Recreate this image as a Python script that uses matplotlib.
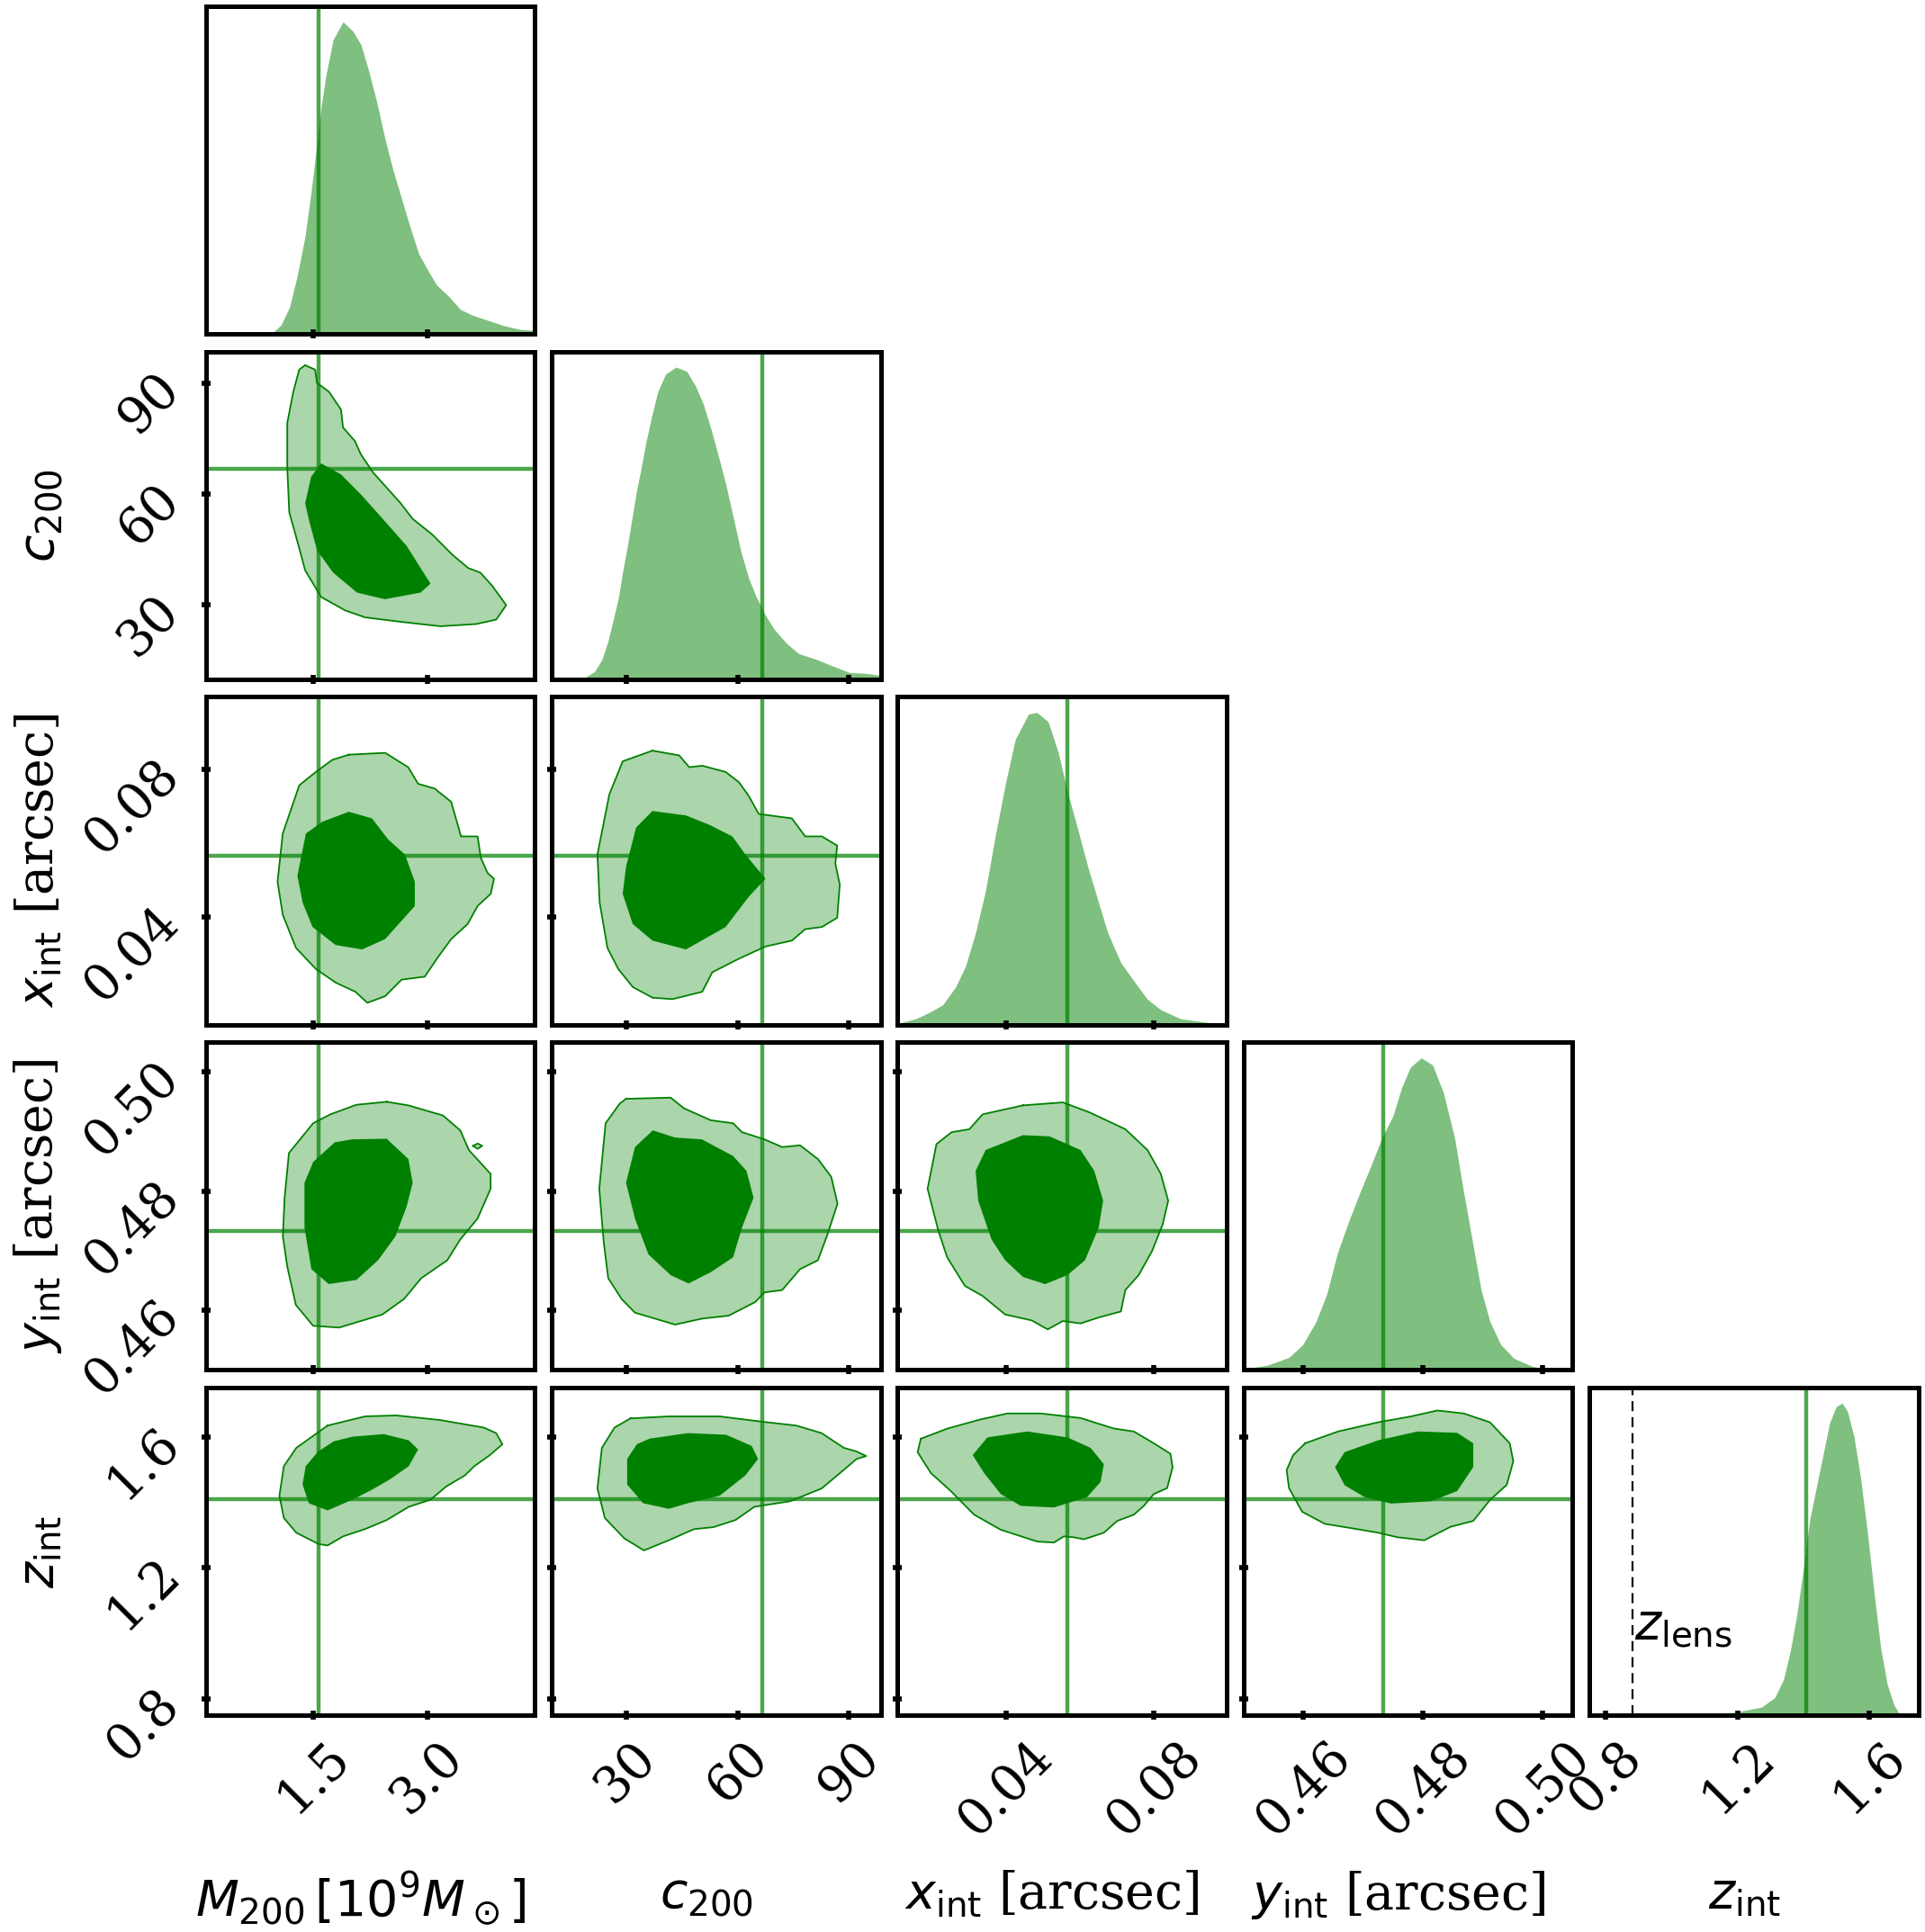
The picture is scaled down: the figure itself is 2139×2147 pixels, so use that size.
import numpy as np
import matplotlib.pyplot as plt

plt.rcParams['font.family'] = 'serif'
plt.rcParams['font.serif'] = ['DejaVu Serif']
plt.rcParams['mathtext.fontset'] = 'dejavusans'

# ---------------- parameters ----------------
labels = [r'$M_{200}\,[10^9M_\odot]$', r'$c_{200}$', r'$x_{\rm int}$ [arcsec]',
          r'$y_{\rm int}$ [arcsec]', r'$z_{\rm int}$']
ranges = [(0.09, 4.41), (10.0, 98.5), (0.0107, 0.0997), (0.450, 0.505), (0.75, 1.75)]
ticks = [[1.5, 3.0], [30, 60, 90], [0.04, 0.08], [0.46, 0.48, 0.50], [0.8, 1.2, 1.6]]
tick_labels = [['1.5', '3.0'], ['30', '60', '90'], ['0.04', '0.08'],
               ['0.46', '0.48', '0.50'], ['0.8', '1.2', '1.6']]
truths = [1.57, 66.7, 0.0565, 0.4733, 1.41]
z_lens = 0.88

# ---------------- 1D marginals (peak normalised) ----------------
M_x = [0.95, 1.08, 1.19, 1.29, 1.395, 1.474, 1.552, 1.605, 1.667, 1.761, 1.892, 2.02, 2.127,
       2.23, 2.336, 2.44, 2.545, 2.65, 2.754, 2.885, 3.015, 3.12, 3.277, 3.434, 3.59, 3.8,
       4.008, 4.22, 4.41]
M_pdf = [0.0, 0.029, 0.086, 0.185, 0.314, 0.457, 0.613, 0.728, 0.827, 0.942, 1.0, 0.970, 0.927,
         0.842, 0.742, 0.628, 0.528, 0.442, 0.357, 0.257, 0.200, 0.157, 0.121, 0.078, 0.060, 0.043,
         0.026, 0.014, 0.011]

c_x = [18.2, 21.5, 23.5, 25.1, 26.7, 28.0, 29.2, 30.4, 31.6, 32.8, 34.1, 35.3, 36.9, 38.5, 40.6,
       43.4, 46.3, 48.7, 50.8, 52.8, 54.8, 56.9, 58.9, 60.9, 63.0, 65.0, 67.4, 69.9, 73.1, 76.4,
       81.3, 85.4, 90.2, 94.3, 98.5]
c_pdf = [0.0, 0.024, 0.063, 0.12, 0.197, 0.265, 0.352, 0.429, 0.515, 0.602, 0.679, 0.756, 0.843,
         0.92, 0.977, 1.0, 0.987, 0.939, 0.881, 0.804, 0.717, 0.621, 0.515, 0.409, 0.323, 0.265,
         0.207, 0.159, 0.116, 0.082, 0.063, 0.043, 0.021, 0.019, 0.012]

x_x = [0.0107, 0.0157, 0.0193, 0.0229, 0.0264, 0.0291, 0.0318, 0.0345, 0.0371, 0.0398, 0.0425,
       0.0461, 0.0484, 0.0514, 0.0541, 0.0568, 0.0595, 0.0621, 0.0648, 0.0675, 0.0711, 0.0746,
       0.0782, 0.0818, 0.0871, 0.0943, 0.0997]
x_pdf = [0.003, 0.019, 0.039, 0.063, 0.121, 0.188, 0.295, 0.43, 0.604, 0.768, 0.913,
         0.995, 1.0, 0.971, 0.874, 0.739, 0.623, 0.507, 0.401, 0.295, 0.198, 0.14,
         0.082, 0.048, 0.019, 0.007, 0.002]

y_x = [0.4503, 0.454, 0.4576, 0.4599, 0.4621, 0.4639, 0.4657, 0.4676, 0.4694, 0.4713, 0.4731,
       0.475, 0.4764, 0.4779, 0.4797, 0.4816, 0.4834, 0.4853, 0.4867, 0.4882, 0.4897, 0.4912,
       0.493, 0.4952, 0.4982, 0.5011]
y_pdf = [0.004, 0.015, 0.04, 0.081, 0.154, 0.242, 0.375, 0.477, 0.566, 0.654, 0.742,
         0.815, 0.903, 0.97, 1.0, 0.977, 0.889, 0.742, 0.58, 0.419, 0.257, 0.154,
         0.081, 0.037, 0.012, 0.0]

z_x = [1.126, 1.206, 1.273, 1.313, 1.34, 1.36, 1.38, 1.4, 1.42, 1.44, 1.46, 1.48, 1.5, 1.518,
       1.534, 1.554, 1.574, 1.595, 1.615, 1.635, 1.655, 1.675, 1.695]
z_pdf = [0.0, 0.012, 0.026, 0.056, 0.115, 0.203, 0.32, 0.467, 0.629, 0.732, 0.834, 0.937, 0.989,
         1.0, 0.974, 0.893, 0.761, 0.585, 0.394, 0.217, 0.1, 0.034, 0.0]

marginals = [(M_x, M_pdf), (c_x, c_pdf), (x_x, x_pdf), (y_x, y_pdf), (z_x, z_pdf)]

# ---------------- 2D credible contours (95% outer, 68% inner) ----------------
Mc_95 = [(1.395, 94.8), (1.526, 93.6), (1.552, 90.0), (1.709, 87.6), (1.866, 82.8), (1.892, 78.0),
         (2.049, 74.3), (2.127, 70.7), (2.284, 65.9), (2.493, 61.1), (2.65, 57.5), (2.807, 53.3),
         (3.068, 49.0), (3.329, 43.6), (3.538, 40.0), (3.695, 38.8), (3.852, 35.2), (4.035, 30.0),
         (3.904, 26.1), (3.643, 24.9), (3.172, 24.3), (2.65, 25.5), (2.18, 26.7), (1.918, 28.6),
         (1.605, 32.2), (1.395, 39.4), (1.317, 45.4), (1.186, 55.1), (1.16, 67.1), (1.16, 79.2),
         (1.239, 87.6), (1.317, 93.6)]
Mc_68 = [(1.605, 68.3), (1.866, 65.3), (2.127, 59.9), (2.388, 53.9), (2.728, 46.0), (2.911, 40.0),
         (3.042, 35.8), (2.911, 33.4), (2.441, 31.6), (2.075, 33.4), (1.761, 38.8), (1.552, 44.8),
         (1.448, 52.7), (1.395, 57.5), (1.474, 64.7)]

Mx_95 = [(1.968, 0.0840), (2.445, 0.0845), (2.748, 0.0806), (2.878, 0.0761), (3.095, 0.0748),
         (3.312, 0.0712), (3.442, 0.0618), (3.659, 0.0618), (3.702, 0.0560), (3.789, 0.0519),
         (3.875, 0.0503), (3.832, 0.0462), (3.659, 0.0429), (3.529, 0.0380), (3.312, 0.0339),
         (3.139, 0.0290), (2.965, 0.0237), (2.662, 0.0229), (2.445, 0.0184), (2.211, 0.0166),
         (2.055, 0.0196), (1.795, 0.0221), (1.535, 0.0258), (1.275, 0.0315), (1.101, 0.0405),
         (1.032, 0.0495), (1.101, 0.0626), (1.318, 0.0757), (1.535, 0.0793), (1.751, 0.0826)]
Mx_68 = [(1.968, 0.0685), (2.272, 0.0667), (2.488, 0.0609), (2.705, 0.0569), (2.835, 0.0495),
         (2.835, 0.0429), (2.662, 0.0389), (2.445, 0.0339), (2.142, 0.0311), (1.795, 0.0323),
         (1.492, 0.0372), (1.362, 0.0438), (1.293, 0.0511), (1.405, 0.0626), (1.622, 0.0658)]

cx_95 = [(37.1, 0.0851), (44.3, 0.0838), (47.0, 0.0806), (50.5, 0.0810), (56.8, 0.0793),
         (60.4, 0.0765), (63.0, 0.0728), (65.7, 0.0679), (74.6, 0.0667), (78.2, 0.0618),
         (82.7, 0.0618), (86.8, 0.0593), (86.3, 0.0544), (87.5, 0.0487), (86.8, 0.0397),
         (82.7, 0.0372), (78.2, 0.0366), (74.6, 0.0335), (67.5, 0.0319), (60.4, 0.0286),
         (53.2, 0.0249), (50.5, 0.0196), (42.5, 0.0176), (37.1, 0.0180), (31.8, 0.0209),
         (27.9, 0.0258), (25.0, 0.0315), (22.9, 0.0438), (22.3, 0.0569), (25.5, 0.0732),
         (29.1, 0.0822)]
cx_68 = [(37.1, 0.0687), (46.1, 0.0675), (52.3, 0.0650), (58.6, 0.0618), (62.1, 0.0569),
         (67.5, 0.0503), (63.0, 0.0454), (56.8, 0.0372), (46.1, 0.0311), (37.1, 0.0335),
         (31.8, 0.0380), (29.1, 0.0462), (30.0, 0.0536), (32.7, 0.0642)]

My_95 = [(2.466, 0.4950), (2.75, 0.4944), (3.205, 0.4927), (3.432, 0.4902), (3.545, 0.4869),
         (3.83, 0.4829), (3.83, 0.4804), (3.659, 0.4754), (3.432, 0.4719), (3.261, 0.4684),
         (2.92, 0.4654), (2.693, 0.4619), (2.409, 0.4593), (1.841, 0.4571), (1.5, 0.4574),
         (1.273, 0.4609), (1.159, 0.4674), (1.102, 0.4724), (1.125, 0.4789), (1.182, 0.4864),
         (1.5, 0.4914), (1.727, 0.4929), (2.068, 0.4945)]
My_68 = [(2.011, 0.4887), (2.466, 0.4888), (2.75, 0.4854), (2.807, 0.4814), (2.727, 0.4774),
         (2.58, 0.4724), (2.352, 0.4684), (2.068, 0.4651), (1.705, 0.4644), (1.477, 0.4669),
         (1.386, 0.4739), (1.386, 0.4814), (1.5, 0.4849), (1.784, 0.4882)]
My_island = [(3.60, 0.4876), (3.66, 0.4880), (3.72, 0.4876), (3.66, 0.4871)]

cy_95 = [(30.0, 0.4955), (42.0, 0.4957), (45.6, 0.4939), (52.8, 0.4919), (58.8, 0.4914),
         (61.2, 0.4899), (67.2, 0.4887), (72.0, 0.4874), (76.8, 0.4877), (81.6, 0.4854),
         (85.2, 0.4824), (86.9, 0.4779), (84.0, 0.4724), (81.6, 0.4684), (76.8, 0.4669),
         (72.0, 0.4634), (67.2, 0.4630), (64.8, 0.4614), (57.6, 0.4591), (50.4, 0.4586),
         (43.2, 0.4576), (32.4, 0.4596), (28.8, 0.4619), (25.2, 0.4654), (24.0, 0.4714),
         (22.8, 0.4804), (24.5, 0.4914), (28.3, 0.4947)]
cy_68 = [(37.2, 0.4902), (43.2, 0.4890), (50.4, 0.4887), (58.8, 0.4859), (62.4, 0.4834),
         (64.3, 0.4789), (61.2, 0.4739), (58.8, 0.4689), (52.8, 0.4664), (46.8, 0.4645),
         (42.0, 0.4659), (36.0, 0.4694), (32.4, 0.4754), (30.0, 0.4814), (32.4, 0.4874)]

xy_95 = [(0.0446, 0.4944), (0.0554, 0.4949), (0.0627, 0.4932), (0.0723, 0.4904), (0.0783, 0.4869),
         (0.0819, 0.4829), (0.0839, 0.4784), (0.0824, 0.4744), (0.0795, 0.4699), (0.0759, 0.4659),
         (0.0723, 0.4634), (0.0711, 0.4598), (0.0651, 0.4588), (0.0602, 0.4578), (0.0554, 0.4582),
         (0.0513, 0.4568), (0.0470, 0.4583), (0.0398, 0.4593), (0.0337, 0.4624), (0.0289, 0.4641),
         (0.0241, 0.4689), (0.0217, 0.4734), (0.0188, 0.4804), (0.0212, 0.4879), (0.0253, 0.4899),
         (0.0301, 0.4904), (0.0337, 0.4929)]
xy_68 = [(0.0446, 0.4894), (0.0518, 0.4892), (0.0602, 0.4869), (0.0639, 0.4834), (0.0663, 0.4784),
         (0.0651, 0.4739), (0.0614, 0.4684), (0.0566, 0.4659), (0.0506, 0.4644), (0.0446, 0.4656),
         (0.0398, 0.4684), (0.0361, 0.4719), (0.0325, 0.4784), (0.0318, 0.4834), (0.0345, 0.4869)]

Mz_95 = [(1.689, 1.634), (2.181, 1.662), (2.591, 1.665), (3.165, 1.651), (3.739, 1.628),
         (3.903, 1.611), (3.985, 1.577), (3.821, 1.544), (3.616, 1.510), (3.493, 1.482),
         (3.247, 1.448), (3.042, 1.408), (2.755, 1.386), (2.468, 1.346), (2.181, 1.318),
         (1.894, 1.296), (1.689, 1.268), (1.566, 1.273), (1.279, 1.307), (1.115, 1.352),
         (1.057, 1.420), (1.115, 1.510), (1.279, 1.566)]
Mz_68 = [(2.017, 1.600), (2.427, 1.608), (2.755, 1.589), (2.878, 1.561), (2.755, 1.510),
         (2.509, 1.470), (2.263, 1.437), (2.017, 1.408), (1.689, 1.375), (1.443, 1.397),
         (1.361, 1.454), (1.402, 1.510), (1.566, 1.555), (1.771, 1.586)]

cz_95 = [(31.2, 1.656), (41.5, 1.662), (55.2, 1.662), (67.2, 1.645), (75.8, 1.634), (82.6, 1.611),
         (88.6, 1.566), (92.0, 1.555), (94.6, 1.541), (92.0, 1.532), (88.6, 1.499), (82.6, 1.442),
         (74.1, 1.403), (64.5, 1.386), (59.5, 1.346), (53.5, 1.324), (48.3, 1.318), (41.5, 1.284),
         (34.8, 1.253), (29.5, 1.290), (24.3, 1.352), (22.3, 1.442), (23.5, 1.566), (26.9, 1.628)]
cz_68 = [(36.3, 1.594), (46.6, 1.611), (56.9, 1.606), (63.8, 1.572), (65.5, 1.532), (62.1, 1.482),
         (55.2, 1.420), (46.6, 1.397), (41.5, 1.380), (34.6, 1.397), (30.3, 1.454), (30.3, 1.532),
         (32.9, 1.577)]

xz_95 = [(0.0170, 1.594), (0.0242, 1.625), (0.0332, 1.653), (0.0404, 1.671), (0.0494, 1.671),
         (0.0602, 1.657), (0.0692, 1.625), (0.0746, 1.616), (0.0800, 1.580), (0.0845, 1.548),
         (0.0851, 1.507), (0.0836, 1.443), (0.0800, 1.425), (0.0773, 1.389), (0.0746, 1.362),
         (0.0701, 1.343), (0.0665, 1.307), (0.0611, 1.287), (0.0584, 1.293), (0.0557, 1.296),
         (0.0530, 1.277), (0.0485, 1.280), (0.0386, 1.316), (0.0314, 1.362), (0.0251, 1.434),
         (0.0197, 1.489), (0.0161, 1.553)]
xz_68 = [(0.0350, 1.598), (0.0458, 1.616), (0.0566, 1.598), (0.0629, 1.566), (0.0665, 1.516),
         (0.0656, 1.462), (0.0620, 1.416), (0.0530, 1.384), (0.0440, 1.389), (0.0386, 1.425),
         (0.0341, 1.489), (0.0310, 1.544)]

yz_95 = [(0.4603, 1.580), (0.4658, 1.616), (0.4725, 1.644), (0.4780, 1.662), (0.4824, 1.680),
         (0.4868, 1.671), (0.4912, 1.644), (0.4945, 1.580), (0.4951, 1.525), (0.4940, 1.453),
         (0.4912, 1.407), (0.4884, 1.343), (0.4846, 1.325), (0.4802, 1.284), (0.4758, 1.293),
         (0.4725, 1.307), (0.4680, 1.321), (0.4636, 1.334), (0.4598, 1.371), (0.4576, 1.443),
         (0.4572, 1.498), (0.4583, 1.544)]
yz_68 = [(0.4669, 1.553), (0.4725, 1.589), (0.4791, 1.616), (0.4857, 1.612), (0.4884, 1.580),
         (0.4884, 1.507), (0.4857, 1.434), (0.4813, 1.403), (0.4747, 1.396), (0.4702, 1.416),
         (0.4669, 1.452), (0.4653, 1.507)]

# (row, col) -> (outer, inner, islands)
contours = {
    (1, 0): (Mc_95, Mc_68, []),
    (2, 0): (Mx_95, Mx_68, []),
    (2, 1): (cx_95, cx_68, []),
    (3, 0): (My_95, My_68, [My_island]),
    (3, 1): (cy_95, cy_68, []),
    (3, 2): (xy_95, xy_68, []),
    (4, 0): (Mz_95, Mz_68, []),
    (4, 1): (cz_95, cz_68, []),
    (4, 2): (xz_95, xz_68, []),
    (4, 3): (yz_95, yz_68, []),
}

# ---------------- figure ----------------
fs = 40
tfs = 40
fig = plt.figure(figsize=(21.39, 21.47), dpi=100)
left0, step_x, w = 0.1069, 0.1797, 0.1709
bottom0, step_y, h = 0.1122, 0.17875, 0.1696


def closed(pts):
    xs = [p[0] for p in pts] + [pts[0][0]]
    ys = [p[1] for p in pts] + [pts[0][1]]
    return xs, ys


for i in range(5):
    for j in range(i + 1):
        ax = fig.add_axes([left0 + j * step_x, bottom0 + (4 - i) * step_y, w, h])
        for s in ax.spines.values():
            s.set_linewidth(3.6)
        ax.tick_params(direction='inout', length=7, width=4, labelsize=tfs, pad=10,
                       top=False, right=False)
        ax.set_xlim(*ranges[j])
        ax.set_xticks(ticks[j])
        if i == 4:
            ax.set_xticklabels(tick_labels[j], rotation=45)
            ax.set_xlabel(labels[j], fontsize=fs)
            ax.xaxis.set_label_coords(0.47, -0.47)
        else:
            ax.set_xticklabels([])

        if i == j:
            xs, ps = marginals[i]
            ax.fill_between(xs, ps, 0, color='green', alpha=0.5, lw=0)
            ax.set_ylim(0, 1.05)
            ax.set_yticks([])
            ax.axvline(truths[j], color='green', alpha=0.7, lw=3.2)
            if i == 4:
                ax.axvline(z_lens, color='black', ls='--', lw=1.6, dashes=(5, 3))
                ax.text(z_lens + 0.005, 0.29, r'$z_{\rm lens}$', fontsize=fs,
                        ha='left', va='center')
        else:
            outer, inner, islands = contours[(i, j)]
            ox, oy = closed(outer)
            ax.fill(ox, oy, facecolor='green', alpha=0.33, lw=0)
            ax.plot(ox, oy, color='green', lw=1.3)
            for isl in islands:
                sx, sy = closed(isl)
                ax.fill(sx, sy, facecolor='green', alpha=0.33, lw=0)
                ax.plot(sx, sy, color='green', lw=1.3)
            ix, iy = closed(inner)
            ax.fill(ix, iy, facecolor='green', lw=0)
            ax.set_ylim(*ranges[i])
            ax.set_yticks(ticks[i])
            ax.axvline(truths[j], color='green', alpha=0.7, lw=3.2)
            ax.axhline(truths[i], color='green', alpha=0.7, lw=3.2)
            if j == 0:
                ax.set_yticklabels(tick_labels[i], rotation=45)
                ax.set_ylabel(labels[i], fontsize=fs)
                ax.yaxis.set_label_coords(-0.43, 0.5)
            else:
                ax.set_yticklabels([])

fig.savefig('out.png', dpi=100)
